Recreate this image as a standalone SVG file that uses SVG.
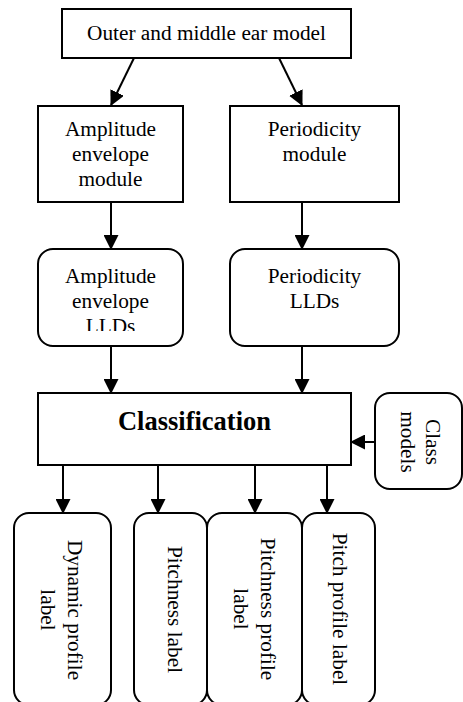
<svg xmlns="http://www.w3.org/2000/svg" width="463" height="702" viewBox="0 0 463 702">
<style>
  .box{fill:#fff;stroke:#000;stroke-width:2}
  .t{font-family:"Liberation Serif","Times New Roman",serif;font-size:21.3px;fill:#000;text-anchor:middle}
  .b{font-weight:bold;font-size:26.5px}
  .c{stroke:#000;stroke-width:2;fill:none}
</style>
<defs>
  <marker id="ah" markerUnits="userSpaceOnUse" markerWidth="15" markerHeight="15" refX="14" refY="7.5" orient="auto" viewBox="0 0 15 15">
    <path d="M0,0 L15,7.5 L0,15 z" fill="#000"/>
  </marker>
  <clipPath id="clipA"><rect x="38" y="249" width="145" height="82"/></clipPath>
</defs>
<rect width="463" height="702" fill="#fff"/>
<g id="connectors">
  <line class="c" x1="134" y1="58" x2="111" y2="105" marker-end="url(#ah)"/>
  <line class="c" x1="279" y1="58" x2="302" y2="105" marker-end="url(#ah)"/>
  <line class="c" x1="111" y1="202" x2="111" y2="249" marker-end="url(#ah)"/>
  <line class="c" x1="302" y1="202" x2="302" y2="249" marker-end="url(#ah)"/>
  <line class="c" x1="111" y1="346" x2="111" y2="393" marker-end="url(#ah)"/>
  <line class="c" x1="302" y1="346" x2="302" y2="393" marker-end="url(#ah)"/>
  <line class="c" x1="375" y1="442" x2="351" y2="442" marker-end="url(#ah)"/>
  <line class="c" x1="63" y1="465" x2="63" y2="513" marker-end="url(#ah)"/>
  <line class="c" x1="158" y1="465" x2="158" y2="513" marker-end="url(#ah)"/>
  <line class="c" x1="255" y1="465" x2="255" y2="513" marker-end="url(#ah)"/>
  <line class="c" x1="327" y1="465" x2="327" y2="513" marker-end="url(#ah)"/>
</g>
<g id="outer-middle-ear">
  <rect class="box" x="62" y="9" width="289" height="49"/>
  <text class="t" x="206.5" y="40">Outer and middle ear model</text>
</g>
<g id="amplitude-module">
  <rect class="box" x="38" y="106" width="145" height="96"/>
  <text class="t" x="110.5" y="136">Amplitude</text>
  <text class="t" x="110.5" y="161">envelope</text>
  <text class="t" x="110.5" y="186">module</text>
</g>
<g id="periodicity-module">
  <rect class="box" x="230" y="106" width="169" height="96"/>
  <text class="t" x="314.5" y="136">Periodicity</text>
  <text class="t" x="314.5" y="161">module</text>
</g>
<g id="amplitude-llds">
  <rect class="box" x="38" y="249" width="145" height="97" rx="15" ry="15"/>
  <g clip-path="url(#clipA)">
    <text class="t" x="110.5" y="283">Amplitude</text>
    <text class="t" x="110.5" y="308">envelope</text>
    <text class="t" x="110.5" y="333">LLDs</text>
  </g>
</g>
<g id="periodicity-llds">
  <rect class="box" x="230" y="249" width="169" height="97" rx="15" ry="15"/>
  <text class="t" x="314.5" y="283">Periodicity</text>
  <text class="t" x="314.5" y="308">LLDs</text>
</g>
<g id="classification">
  <rect class="box" x="38" y="393" width="313" height="72"/>
  <text class="t b" x="194.5" y="430">Classification</text>
</g>
<g id="class-models">
  <rect class="box" x="375" y="393" width="87" height="96" rx="15" ry="15"/>
  <g transform="translate(426,442) rotate(90)">
    <text class="t" x="0" y="0">Class</text>
    <text class="t" x="0" y="25">models</text>
  </g>
</g>
<g id="dynamic-profile-label">
  <rect class="box" x="14" y="513" width="97" height="192" rx="15" ry="15"/>
  <g transform="translate(68,610) rotate(90)">
    <text class="t" x="0" y="0">Dynamic profile</text>
    <text class="t" x="0" y="27">label</text>
  </g>
</g>
<g id="pitchness-label">
  <rect class="box" x="134" y="513" width="73" height="192" rx="15" ry="15"/>
  <g transform="translate(168,609.5) rotate(90)">
    <text class="t" x="0" y="0">Pitchness label</text>
  </g>
</g>
<g id="pitchness-profile-label">
  <rect class="box" x="207" y="513" width="95" height="192" rx="15" ry="15"/>
  <g transform="translate(261,609) rotate(90)">
    <text class="t" x="0" y="0">Pitchness profile</text>
    <text class="t" x="0" y="27">label</text>
  </g>
</g>
<g id="pitch-profile-label">
  <rect class="box" x="302" y="513" width="73" height="192" rx="15" ry="15"/>
  <g transform="translate(333,609) rotate(90)">
    <text class="t" x="0" y="0">Pitch profile label</text>
  </g>
</g>
</svg>
